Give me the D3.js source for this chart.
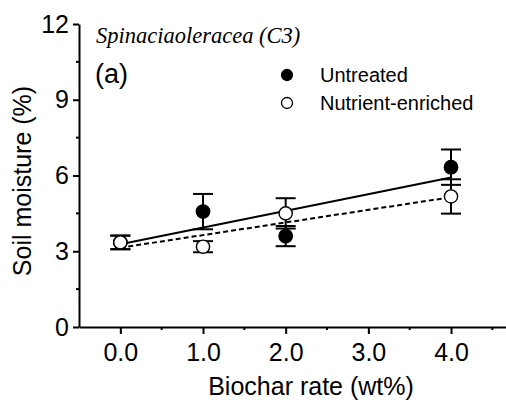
<!DOCTYPE html>
<html>
<head>
<meta charset="utf-8">
<script src="https://cdn.jsdelivr.net/npm/d3@7"></script>
<style>
body { margin: 0; background: #fff; }
text { font-family: "Liberation Sans", Arial, sans-serif; fill: #000; }
</style>
</head>
<body>
<svg id="chart" width="506" height="410"></svg>
<script>
// data
const rates = [0, 1, 2, 4];
const untreated = [3.35, 4.57, 3.6, 6.33];
const untreatedErr = [0.27, 0.7, 0.4, 0.7];
const enriched = [3.35, 3.18, 4.5, 5.17];
const enrichedErr = [0.27, 0.22, 0.6, 0.68];
// linear fits [intercept, slope]
const untreatedFit = [3.28, 0.66];
const enrichedFit = [3.14, 0.5];
const xTicks = [0, 1, 2, 3, 4];
const xMinor = [0.5, 1.5, 2.5, 3.5, 4.5];
const yTicks = [0, 3, 6, 9, 12];
const yMinor = [1.5, 4.5, 7.5, 10.5];

const svg = d3.select("#chart");

const x = d3.scaleLinear().domain([-0.5, 4.665]).range([79, 506]);
const y = d3.scaleLinear().domain([0, 12]).range([327, 24]);

//axes
const xAxis = svg.append("g")
    .attr("transform", "translate(0,327)")
    .call(d3.axisBottom(x).tickValues(xTicks).tickFormat(d3.format(".1f")).tickSize(7).tickSizeOuter(0));
xAxis.selectAll("text").style("font-size", "25px").attr("dy", "0.95em");

xAxis.selectAll(".minor").data(xMinor).enter().append("line")
    .attr("class", "minor")
    .attr("x1", d => x(d)).attr("x2", d => x(d))
    .attr("y1", 0).attr("y2", 3)
    .attr("stroke", "#000").attr("stroke-width", 2);

const yAxis = svg.append("g")
    .attr("transform", "translate(79,0)")
    .call(d3.axisLeft(y).tickValues(yTicks).tickSize(6).tickSizeOuter(0).tickPadding(4));
yAxis.selectAll("text").style("font-size", "25px");

yAxis.selectAll(".minor").data(yMinor).enter().append("line")
    .attr("class", "minor")
    .attr("y1", d => y(d)).attr("y2", d => y(d))
    .attr("x1", 0).attr("x2", -3)
    .attr("stroke", "#000").attr("stroke-width", 2);

svg.selectAll(".domain, .tick line").attr("stroke", "#000").attr("stroke-width", 2);

//axis titles
svg.append("text")
    .attr("x", 311).attr("y", 395)
    .attr("text-anchor", "middle")
    .style("font-size", "25px")
    .text("Biochar rate (wt%)");

svg.append("text")
    .attr("transform", "translate(31,181)rotate(-90)")
    .attr("text-anchor", "middle")
    .style("font-size", "25px")
    .text("Soil moisture (%)");

//title and panel letter
svg.append("text")
    .attr("x", 96).attr("y", 43)
    .style("font-family", "'Liberation Serif', 'Times New Roman', serif")
    .style("font-style", "italic")
    .style("font-size", "22.5px")
    .text("Spinaciaoleracea (C3)");

svg.append("text")
    .attr("x", 95).attr("y", 83)
    .style("font-size", "27px")
    .text("(a)");

//fit lines
const fitLine = (fit) => [[0, fit[0]], [4, fit[0] + 4 * fit[1]]];
const line = d3.line().x(d => x(d[0])).y(d => y(d[1]));

svg.append("path")
    .attr("d", line(fitLine(untreatedFit)))
    .attr("fill", "none").attr("stroke", "#000").attr("stroke-width", 2);

svg.append("path")
    .attr("d", line(fitLine(enrichedFit)))
    .attr("fill", "none").attr("stroke", "#000").attr("stroke-width", 2)
    .attr("stroke-dasharray", "5,3");

//error bars
function drawSeries(vals, errs) {
    const data = rates.map((r, i) => ({ r: r, v: vals[i], e: errs[i] }));
    const g = svg.append("g");
    const eb = g.selectAll(".eb").data(data).enter().append("g")
        .attr("stroke", "#000").attr("stroke-width", 2);
    eb.append("line")
        .attr("x1", d => x(d.r)).attr("x2", d => x(d.r))
        .attr("y1", d => y(d.v - d.e)).attr("y2", d => y(d.v + d.e));
    [-1, 1].forEach(s => {
        eb.append("line")
            .attr("x1", d => x(d.r) - 10).attr("x2", d => x(d.r) + 10)
            .attr("y1", d => y(d.v + s * d.e)).attr("y2", d => y(d.v + s * d.e));
    });
    return data;
}

const uData = drawSeries(untreated, untreatedErr);
const eData = drawSeries(enriched, enrichedErr);

//points
svg.append("g").selectAll("circle").data(uData).enter().append("circle")
    .attr("cx", d => x(d.r)).attr("cy", d => y(d.v)).attr("r", 6.8)
    .attr("fill", "#000").attr("stroke", "#000").attr("stroke-width", 1.2);

svg.append("g").selectAll("circle").data(eData).enter().append("circle")
    .attr("cx", d => x(d.r)).attr("cy", d => y(d.v)).attr("r", 6.6)
    .attr("fill", "#fff").attr("stroke", "#000").attr("stroke-width", 1.4);

//legend
const legend = [["Untreated", "#000"], ["Nutrient-enriched", "#fff"]];
legend.forEach((d, i) => {
    svg.append("circle")
        .attr("cx", 287).attr("cy", 75 + i * 28).attr("r", 5.5)
        .attr("fill", d[1]).attr("stroke", "#000").attr("stroke-width", 1.3);
    svg.append("text")
        .attr("x", 320).attr("y", 82 + i * 28)
        .style("font-size", "20px")
        .text(d[0]);
});
</script>
</body>
</html>
